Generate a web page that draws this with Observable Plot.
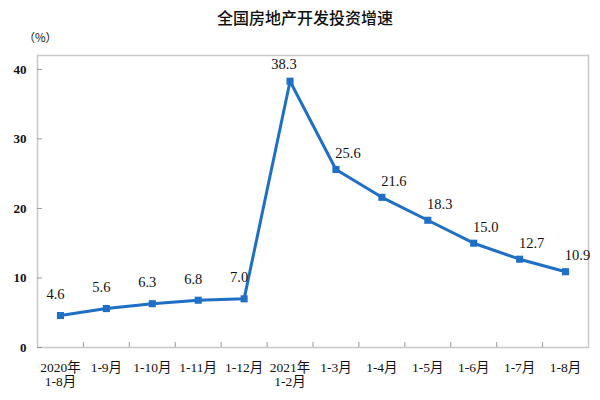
<!DOCTYPE html>
<html>
<head>
<meta charset="utf-8">
<script src="https://cdn.jsdelivr.net/npm/d3@7"></script>
<script src="https://cdn.jsdelivr.net/npm/@observablehq/plot@0.6"></script>
<style>
  body { margin: 0; background: #fff; }
  #title { width: 600px; height: 30px; line-height: 34px; text-align: center; font-family: "Noto Sans CJK SC", sans-serif; font-size: 16px; font-weight: 500; color: #111; padding-left: 10px; box-sizing: border-box; }
</style>
</head>
<body>
<div id="title">全国房地产开发投资增速</div>
<div id="chart"></div>
<script>
const categories = ["2020年\n1-8月", "1-9月", "1-10月", "1-11月", "1-12月", "2021年\n1-2月", "1-3月", "1-4月", "1-5月", "1-6月", "1-7月", "1-8月"];
const values = [4.6, 5.6, 6.3, 6.8, 7.0, 38.3, 25.6, 21.6, 18.3, 15.0, 12.7, 10.9];
const yTicks = [0, 10, 20, 30, 40];

const data = categories.map((c, i) => ({i, c, v: values[i]}));
const color = "#1f6fc6";
const serif = "'Liberation Serif', 'Noto Sans CJK SC', serif";

const plot = Plot.plot({
  width: 600,
  height: 370,
  marginTop: 25,
  marginBottom: 53,
  marginLeft: 37,
  marginRight: 12,
  style: {fontFamily: serif, background: "#fff", color: "#111"},
  x: {type: "linear", domain: [-0.5, categories.length - 0.5]},
  y: {domain: [0, 42]},
  marks: [
    Plot.frame({stroke: "#c8c8c8", strokeWidth: 1.5}),
    Plot.axisY({ticks: yTicks, tickSize: -5, tickPadding: 16, label: null, fontSize: 13, fontWeight: "bold", stroke: "#999"}),
    Plot.axisX({ticks: d3.range(0.5, categories.length - 1, 1), tickSize: -5, tickFormat: () => "", label: null, stroke: "#999"}),
    Plot.axisX({ticks: d3.range(categories.length), tickSize: 0, tickPadding: 15, tickFormat: i => categories[i], label: null, fontSize: 13.5, lineHeight: 1.0}),
    Plot.text(["（%）"], {frameAnchor: "top-left", dx: -14, dy: -22, fontSize: 11.5, fontFamily: "'Noto Sans CJK SC', sans-serif"}),
    Plot.line(data, {x: "i", y: "v", stroke: color, strokeWidth: 3}),
    Plot.dot(data, {x: "i", y: "v", symbol: "square", r: 4, fill: color}),
    Plot.text(data.filter(d => d.i < 5), {x: "i", y: "v", text: d => d.v.toFixed(1), dx: -5, dy: -21, fontSize: 14.5}),
    Plot.text(data.filter(d => d.i === 5), {x: "i", y: "v", text: d => d.v.toFixed(1), dx: -6, dy: -17, fontSize: 14.5}),
    Plot.text(data.filter(d => d.i > 5), {x: "i", y: "v", text: d => d.v.toFixed(1), dx: 12, dy: -16, fontSize: 14.5})
  ]
});
document.getElementById("chart").appendChild(plot);
</script>
</body>
</html>
